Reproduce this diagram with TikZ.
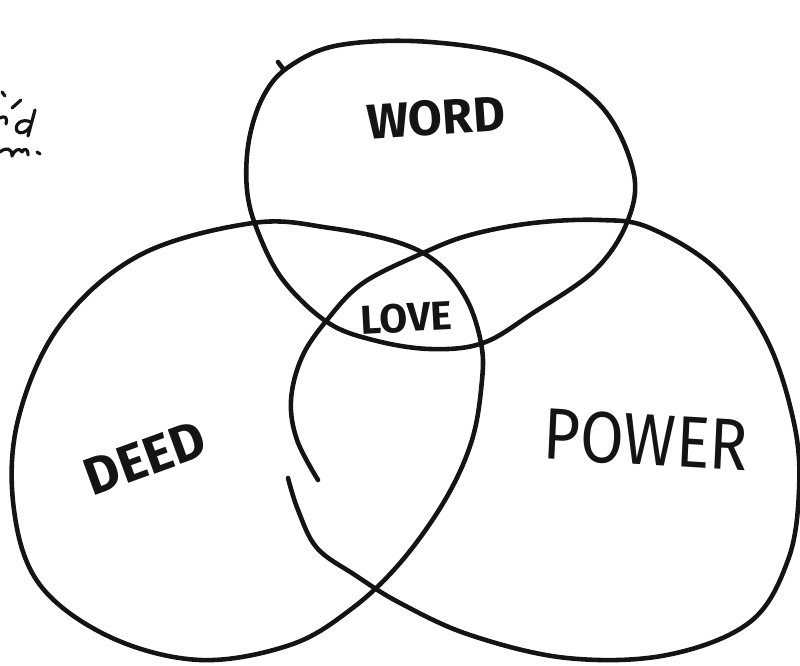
\documentclass[tikz,border=0pt]{standalone}
\usepackage{fontspec}
\setmainfont{Fira Sans}
\begin{document}
\begin{tikzpicture}[x=0.02cm,y=-0.02cm,
  ink/.style={draw=black!92, line width=2.6pt, line cap=round, line join=round},
  scrib/.style={draw=black!92, line width=1.8pt, line cap=round, line join=round},
  lbl/.style={font=\bfseries, text=black!92, inner sep=0pt}]
\useasboundingbox (0,0) rectangle (800,665);
% WORD circle
\draw[ink] plot[smooth cycle, tension=0.6] coordinates {
 (340,45) (430,42) (530,60) (600,105) (633,170) (628,220) (595,270) (533,313)
 (483,343) (430,349) (373,340) (327,322) (283,280) (258,232) (247,190) (249,140) (264,95) (290,66)};
\draw[ink] (278,62) -- (284,70);
% DEED circle
\draw[ink] plot[smooth cycle, tension=0.6] coordinates {
 (253,223) (330,228) (400,243) (440,265) (467,300) (481,343) (482,380) (472,440)
 (445,500) (400,563) (350,610) (290,645) (200,660) (110,637) (40,585) (14,510)
 (18,420) (60,325) (140,255)};
% POWER circle (open stroke)
\draw[ink] plot[smooth, tension=0.6] coordinates {
 (318,480) (297,440) (291,400) (302,357) (327,320) (363,283) (423,253) (470,235)
 (533,223) (600,220) (650,228) (717,270) (767,340) (794,423) (799,490) (788,560)
 (750,622) (667,655) (567,658) (470,635) (400,603) (355,575) (317,548) (298,510) (288,478)};
% labels
\node[lbl, font=\bfseries\fontsize{28}{30}\selectfont, rotate=4] (word) at (436,118) {WORD};
\node[lbl, font=\bfseries\fontsize{23}{25}\selectfont, rotate=3] (love) at (406,318) {LOVE};
\node[lbl, font=\bfseries\fontsize{30}{32}\selectfont, rotate=20] (deed) at (145,458) {DEED};
\node[lbl, font=\fontsize{36}{38}\selectfont, yscale=1.15, rotate=-3] (power) at (646,440) {POWER};
% partial scribble at top left
\draw[scrib] (2,92) -- (5,96);
\draw[scrib] (12,108) -- (21,100);
\draw[scrib] (0,118) .. controls (5,115) and (8,118) .. (6,124);
\draw[scrib] (35,110) -- (28,136);
\draw[scrib] (31,122) .. controls (22,118) and (14,124) .. (17,131) .. controls (20,135) and (27,132) .. (30,127);
\draw[scrib] (0,152) .. controls (6,147) and (12,148) .. (12,156) .. controls (14,150) and (20,147) .. (22,152) .. controls (24,148) and (28,148) .. (28,155);
\draw[scrib] (37,152) -- (40,154);
\end{tikzpicture}
\end{document}
